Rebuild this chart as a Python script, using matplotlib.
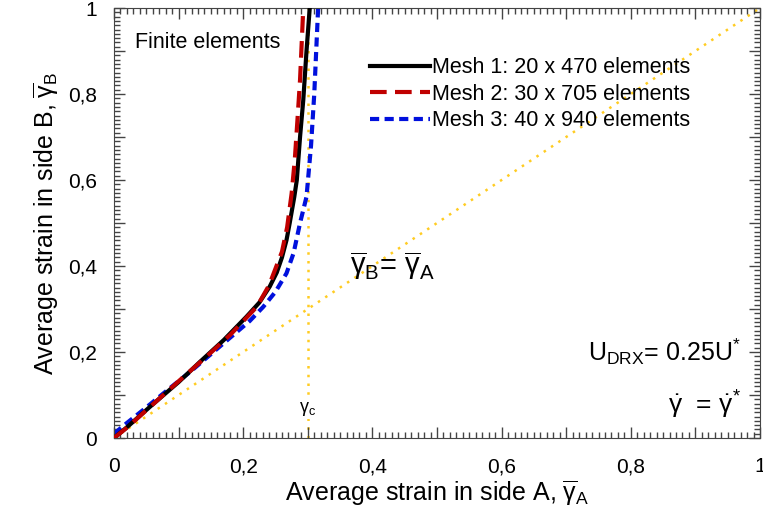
import matplotlib
matplotlib.use("Agg")
import matplotlib.pyplot as plt
import numpy as np
from matplotlib.ticker import MultipleLocator, FuncFormatter

plt.rcParams["font.family"] = ["Liberation Sans", "DejaVu Sans"]
plt.rcParams["mathtext.fontset"] = "custom"
plt.rcParams["mathtext.rm"] = "Liberation Sans"
plt.rcParams["mathtext.it"] = "Liberation Sans"
plt.rcParams["mathtext.bf"] = "Liberation Sans:bold"

# Mesh 1: 20 x 470 elements
mesh1_x = [0.0, 0.02, 0.056, 0.10, 0.133, 0.17, 0.205, 0.225, 0.241, 0.252, 0.260,
           0.267, 0.272, 0.279, 0.283, 0.288, 0.293, 0.298, 0.303]
mesh1_y = [0.0, 0.025, 0.073, 0.13, 0.177, 0.228, 0.282, 0.315, 0.352, 0.385, 0.42,
           0.46, 0.50, 0.56, 0.60, 0.70, 0.786, 0.90, 1.0]

# Mesh 2: 30 x 705 elements
mesh2_x = [0.0, 0.02, 0.06, 0.10, 0.14, 0.18, 0.221, 0.240, 0.260, 0.268, 0.275,
           0.280, 0.284, 0.288, 0.293]
mesh2_y = [0.0, 0.024, 0.078, 0.132, 0.185, 0.24, 0.305, 0.355, 0.433, 0.49, 0.569,
           0.65, 0.74, 0.833, 1.0]

# Mesh 3: 40 x 940 elements
mesh3_x = [0.0, 0.02, 0.045, 0.08, 0.118, 0.15, 0.185, 0.21, 0.231, 0.25, 0.267,
           0.278, 0.288, 0.298, 0.305, 0.31, 0.316]
mesh3_y = [0.01, 0.035, 0.065, 0.108, 0.154, 0.195, 0.24, 0.272, 0.305, 0.34, 0.383,
           0.43, 0.50, 0.561, 0.68, 0.80, 1.0]

labels = ["Mesh 1: 20 x 470 elements", "Mesh 2: 30 x 705 elements",
          "Mesh 3: 40 x 940 elements"]
gamma_c = 0.3
gold = "#FFCC22"

fig = plt.figure(figsize=(7.63, 5.24), dpi=100)
ax = fig.add_axes([114 / 763, 1 - 438 / 524, 646 / 763, 430 / 524])

# reference lines
ax.plot([0, 1], [0, 1], ls=(0, (1, 2.5)), color=gold, lw=1.8, zorder=1)
ax.plot([gamma_c, gamma_c], [0, 1], ls=(0, (1, 2.5)), color=gold, lw=1.8, zorder=1)

ax.plot(mesh3_x, mesh3_y, color="#0010DD", lw=3, ls=(0, (2.2, 1.3)), label=labels[2], zorder=2)
ax.plot(mesh1_x, mesh1_y, color="black", lw=3, label=labels[0], zorder=3)
ax.plot(mesh2_x, mesh2_y, color="#C00000", lw=3, ls=(0, (4, 2)), label=labels[1], zorder=4)

ax.set_xlim(0, 1)
ax.set_ylim(0, 1)


def fmt(v, pos):
    r = round(v * 10)
    if r % 2:
        return ""
    if r in (0, 10):
        return str(r // 10)
    return f"{v:.1f}".replace(".", ",")


for axis in (ax.xaxis, ax.yaxis):
    axis.set_major_locator(MultipleLocator(0.1))
    axis.set_minor_locator(MultipleLocator(0.01))
    axis.set_major_formatter(FuncFormatter(fmt))
ax.tick_params(which="both", direction="in", top=True, right=True, labelsize=15, color="#444444")
ax.tick_params(which="major", length=8, width=1)
ax.tick_params(which="minor", length=4, width=1)
ax.tick_params(axis="x", pad=14)
ax.tick_params(axis="y", pad=12)
for s in ax.spines.values():
    s.set_color("#444444")

ax.set_xlabel(r"Average strain in side A, $\overline{\gamma}_{A}$", fontsize=18, labelpad=1)
ax.set_ylabel(r"Average strain in side B, $\overline{\gamma}_{B}$", fontsize=18, labelpad=5)

ax.text(0.033, 0.92, "Finite elements", fontsize=15.5, va="center", ha="left")
ax.text(0.365, 0.40, r"$\overline{\gamma}_{B}$= $\overline{\gamma}_{A}$", fontsize=21,
        va="center", ha="left")
ax.text(0.299, 0.068, r"$\gamma_{c}$", fontsize=13, ha="center", va="center",
        bbox=dict(facecolor="white", edgecolor="none", pad=1), zorder=5)
ax.text(0.97, 0.20, r"U$_{\mathrm{DRX}}$= 0.25U$^{*}$", fontsize=18, ha="right", va="center")
ax.text(0.97, 0.078, r"$\dot{\gamma}$  = $\dot{\gamma}^{*}$", fontsize=19, ha="right", va="center")

handles, labs = ax.get_legend_handles_labels()
order = [1, 2, 0]
ax.legend([handles[i] for i in order], [labs[i] for i in order],
          loc="upper left", bbox_to_anchor=(0.396, 0.885), frameon=False, fontsize=15.5,
          handlelength=2.8, handletextpad=0.1, labelspacing=0.25, borderaxespad=0,
          borderpad=0)

fig.savefig("out.png", dpi=100)
